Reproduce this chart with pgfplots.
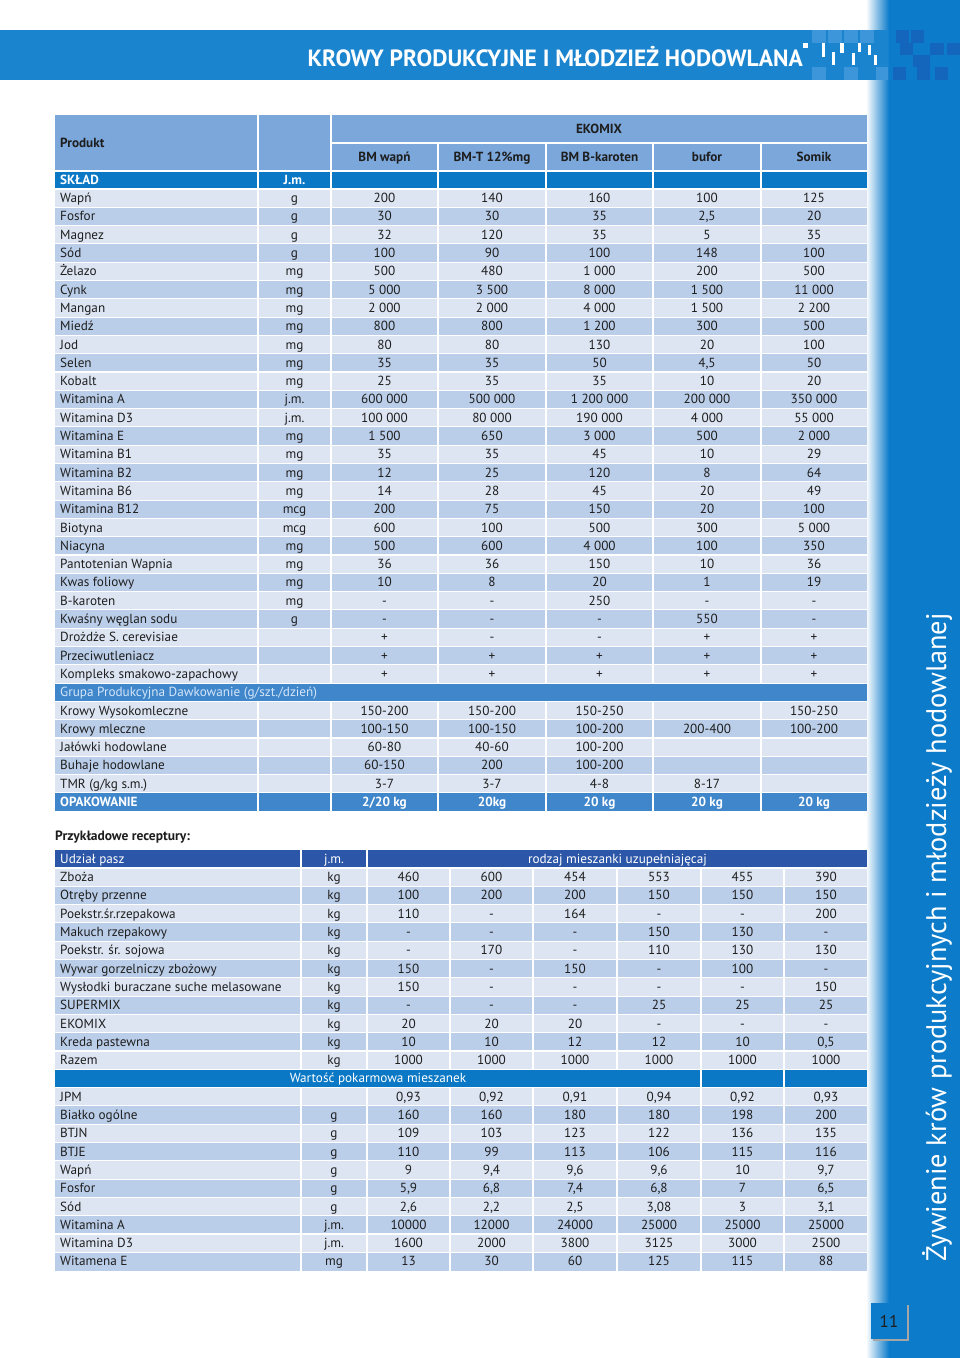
\documentclass[border=0pt]{standalone}
\usepackage{pgfplots}
\pgfplotsset{compat=1.18}
\usepackage{pgfplotstable}
\usepackage{fontspec}
\setmainfont{PT Sans}
\definecolor{banner}{HTML}{1A84CF}
\definecolor{stripe}{HTML}{0B7BCA}
\definecolor{hdr}{HTML}{7BA7DB}
\definecolor{skl}{HTML}{0A78C5}
\definecolor{mid}{HTML}{3F86CB}
\definecolor{navy}{HTML}{2C56A7}
\definecolor{rowA}{HTML}{DDE5F3}
\definecolor{rowB}{HTML}{BBCEE9}
\definecolor{txt}{HTML}{1E1E1E}
\definecolor{pale}{HTML}{D4E6F8}
\definecolor{sqlight}{HTML}{3D95DA}
\definecolor{sqdark}{HTML}{1466BC}
\newcommand\tfont{\fontsize{13.2}{15}\selectfont}

% sklad: EKOMIX composition
\pgfplotstableread[col sep=semicolon]{
label;unit;a;b;c;d;e
Wapń;g;200;140;160;100;125
Fosfor;g;30;30;35;2,5;20
Magnez;g;32;120;35;5;35
Sód;g;100;90;100;148;100
Żelazo;mg;500;480;1 000;200;500
Cynk;mg;5 000;3 500;8 000;1 500;11 000
Mangan;mg;2 000;2 000;4 000;1 500;2 200
Miedź;mg;800;800;1 200;300;500
Jod;mg;80;80;130;20;100
Selen;mg;35;35;50;4,5;50
Kobalt;mg;25;35;35;10;20
Witamina A;j.m.;600 000;500 000;1 200 000;200 000;350 000
Witamina D3;j.m.;100 000;80 000;190 000;4 000;55 000
Witamina E;mg;1 500;650;3 000;500;2 000
Witamina B1;mg;35;35;45;10;29
Witamina B2;mg;12;25;120;8;64
Witamina B6;mg;14;28;45;20;49
Witamina B12;mcg;200;75;150;20;100
Biotyna;mcg;600;100;500;300;5 000
Niacyna;mg;500;600;4 000;100;350
Pantotenian Wapnia;mg;36;36;150;10;36
Kwas foliowy;mg;10;8;20;1;19
B-karoten;mg;-;-;250;-;-
Kwaśny węglan sodu;g;-;-;-;550;-
Drożdże S. cerevisiae;;+;-;-;+;+
Przeciwutleniacz;;+;+;+;+;+
Kompleks smakowo-zapachowy;;+;+;+;+;+
}\sklad

% dawkowanie
\pgfplotstableread[col sep=semicolon]{
label;a;b;c;d;e
Krowy Wysokomleczne;150-200;150-200;150-250;;150-250
Krowy mleczne;100-150;100-150;100-200;200-400;100-200
Jałówki hodowlane;60-80;40-60;100-200;;
Buhaje hodowlane;60-150;200;100-200;;
TMR (g/kg s.m.);3-7;3-7;4-8;8-17;
}\dawki

\pgfplotstableread[col sep=semicolon]{
label;a;b;c;d;e
OPAKOWANIE;2/20 kg;20kg;20 kg;20 kg;20 kg
}\opak

% receptury
\pgfplotstableread[col sep=semicolon]{
label;unit;a;b;c;d;e;f
Zboża;kg;460;600;454;553;455;390
Otręby przenne;kg;100;200;200;150;150;150
Poekstr.śr.rzepakowa;kg;110;-;164;-;-;200
Makuch rzepakowy;kg;-;-;-;150;130;-
Poekstr. śr. sojowa;kg;-;170;-;110;130;130
Wywar gorzelniczy zbożowy;kg;150;-;150;-;100;-
Wysłodki buraczane suche melasowane;kg;150;-;-;-;-;150
SUPERMIX;kg;-;-;-;25;25;25
EKOMIX;kg;20;20;20;-;-;-
Kreda pastewna;kg;10;10;12;12;10;0,5
Razem;kg;1000;1000;1000;1000;1000;1000
}\recept

\pgfplotstableread[col sep=semicolon]{
label;unit;a;b;c;d;e;f
JPM;;0,93;0,92;0,91;0,94;0,92;0,93
Białko ogólne;g;160;160;180;180;198;200
BTJN;g;109;103;123;122;136;135
BTJE;g;110;99;113;106;115;116
Wapń;g;9;9,4;9,6;9,6;10;9,7
Fosfor;g;5,9;6,8;7,4;6,8;7;6,5
Sód;g;2,6;2,2;2,5;3,08;3;3,1
Witamina A;j.m.;10000;12000;24000;25000;25000;25000
Witamina D3;j.m.;1600;2000;3800;3125;3000;2500
Witamena E;mg;13;30;60;125;115;88
}\wartosc

\pgfplotsset{
  cellt/.style={only marks,mark=none,point meta=explicit symbolic,nodes near coords,
    nodes near coords style={anchor=base,inner sep=0pt,font=\tfont,text=txt}},
  cellw/.style={cellt,nodes near coords style={anchor=base west}},
  cellb/.style={cellt,nodes near coords style={text=white,font=\bfseries\tfont}},
}

\begin{document}
\begin{tikzpicture}
\begin{axis}[width=960pt,height=1358pt,scale only axis,
  xmin=0,xmax=960,ymin=0,ymax=1358,y dir=reverse,hide axis,clip=false]

\fill[white] (0,0) rectangle (960,1358);
% side stripe and banner
\fill[stripe] (888,0) rectangle (960,1358);
\shade[left color=white,right color=stripe] (866,0) rectangle (889,1358);
\fill[banner] (0,30) rectangle (888,80);
\fill[sqlight] (812,30) rectangle (826,43);
\fill[sqlight] (828,30) rectangle (842,43);
\fill[sqlight] (844,30) rectangle (858,43);
\fill[sqlight] (860,30) rectangle (874,43);
\fill[sqlight] (812,67) rectangle (826,80);
\fill[sqlight] (844,67) rectangle (858,80);
\fill[sqlight] (876,67) rectangle (888,80);
\fill[sqdark] (896,30) rectangle (909,43);
\fill[sqdark] (911,30) rectangle (924,43);
\fill[sqdark] (900,43) rectangle (913,55);
\fill[sqdark] (930,43) rectangle (944,55);
\fill[sqdark] (947,43) rectangle (960,55);
\fill[sqdark] (913,55) rectangle (930,67);
\fill[sqdark] (893,67) rectangle (906,80);
\fill[sqdark] (917,67) rectangle (930,80);
\fill[sqdark] (935,67) rectangle (948,80);
\fill[white] (803,43) rectangle (808,48);
\fill[white] (822,43) rectangle (825,57);
\fill[white] (832,52) rectangle (835,65);
\fill[white] (840,43) rectangle (844,53);
\fill[white] (852,53) rectangle (855,65);
\fill[white] (858,43) rectangle (861,52);
\fill[white] (868,45) rectangle (871,55);
\fill[white] (874,55) rectangle (877,65);
\node[anchor=base east,inner sep=0pt,text=white,font=\bfseries\fontsize{23.5}{26}\selectfont]
  at (803,66.5) {KROWY PRODUKCYJNE I MŁODZIEŻ HODOWLANA};
\node[rotate=90,anchor=base,inner sep=0pt,text=white,font=\fontsize{28.3}{32}\selectfont]
  at (946,937.5) {Żywienie krów produkcyjnych i młodzieży hodowlanej};
\fill[black!35] (873,1305) rectangle (909,1341);
\fill[stripe] (871,1303) rectangle (907,1339);
\node[text=txt,font=\fontsize{17}{20}\selectfont] at (889,1321) {11};

% ---- table 1 ----
\fill[hdr] (55,115) rectangle (867,171);
\fill[skl] (55,171) rectangle (867,189);
\pgfplotsinvokeforeach{0,2,...,26}{\fill[rowA] (55,{189+18.3*#1}) rectangle (867,{189+18.3*(#1+1)});}
\pgfplotsinvokeforeach{1,3,...,25}{\fill[rowB] (55,{189+18.3*#1}) rectangle (867,{189+18.3*(#1+1)});}
\fill[mid] (55,683.1) rectangle (867,701.4);
\pgfplotsinvokeforeach{0,2,4}{\fill[rowA] (55,{701.4+18.3*#1}) rectangle (867,{701.4+18.3*(#1+1)});}
\pgfplotsinvokeforeach{1,3}{\fill[rowB] (55,{701.4+18.3*#1}) rectangle (867,{701.4+18.3*(#1+1)});}
\fill[mid] (55,793.2) rectangle (867,811.5);
\pgfplotsinvokeforeach{0,...,34}{\draw[white,line width=1.1pt] (55,{189+18.3*#1}) -- (867,{189+18.3*#1});}
\draw[white,line width=1.1pt] (55,171) -- (867,171);
\draw[white,line width=1.1pt] (331,143) -- (867,143);
\draw[white,line width=1.6pt] (258,115) -- (258,683.1) (331,115) -- (331,683.1);
\draw[white,line width=1.6pt] (258,701.4) -- (258,811.5) (331,701.4) -- (331,811.5);
\pgfplotsinvokeforeach{438,546,653,761}{
  \draw[white,line width=1.6pt] (#1,143) -- (#1,683.1);
  \draw[white,line width=1.6pt] (#1,701.4) -- (#1,811.5);}

\begin{scope}[every node/.style={inner sep=0pt,text=txt,font=\bfseries\tfont}]
\node[anchor=base west] at (60,147.5) {Produkt};
\node[anchor=base] at (599,133.5) {EKOMIX};
\node[anchor=base] at (384.5,161.5) {BM wapń};
\node[anchor=base] at (492,161.5) {BM-T 12\%mg};
\node[anchor=base] at (599.5,161.5) {BM B-karoten};
\node[anchor=base] at (707,161.5) {bufor};
\node[anchor=base] at (814,161.5) {Somik};
\node[anchor=base west,text=white] at (60,184.5) {SKŁAD};
\node[anchor=base,text=white] at (294.5,184.5) {J.m.};
\node[anchor=base west,font=\tfont,text=pale] at (60,696.8) {Grupa Produkcyjna Dawkowanie (g/szt./dzień)};
\node[anchor=base west,font=\bfseries\fontsize{13.5}{15}\selectfont] at (55,840.5) {Przykładowe receptury:};
\end{scope}

\addplot[cellw] table[x expr=60,y expr=202.65+18.3*\coordindex,meta=label]{\sklad};
\addplot[cellt] table[x expr=294.5,y expr=202.65+18.3*\coordindex,meta=unit]{\sklad};
\addplot[cellt] table[x expr=384.5,y expr=202.65+18.3*\coordindex,meta=a]{\sklad};
\addplot[cellt] table[x expr=492,y expr=202.65+18.3*\coordindex,meta=b]{\sklad};
\addplot[cellt] table[x expr=599.5,y expr=202.65+18.3*\coordindex,meta=c]{\sklad};
\addplot[cellt] table[x expr=707,y expr=202.65+18.3*\coordindex,meta=d]{\sklad};
\addplot[cellt] table[x expr=814,y expr=202.65+18.3*\coordindex,meta=e]{\sklad};

\addplot[cellw] table[x expr=60,y expr=715.05+18.3*\coordindex,meta=label]{\dawki};
\addplot[cellt] table[x expr=384.5,y expr=715.05+18.3*\coordindex,meta=a]{\dawki};
\addplot[cellt] table[x expr=492,y expr=715.05+18.3*\coordindex,meta=b]{\dawki};
\addplot[cellt] table[x expr=599.5,y expr=715.05+18.3*\coordindex,meta=c]{\dawki};
\addplot[cellt] table[x expr=707,y expr=715.05+18.3*\coordindex,meta=d]{\dawki};
\addplot[cellt] table[x expr=814,y expr=715.05+18.3*\coordindex,meta=e]{\dawki};

\addplot[cellb,nodes near coords style={anchor=base west}] table[x expr=60,y expr=806.85,meta=label]{\opak};
\addplot[cellb] table[x expr=384.5,y expr=806.85,meta=a]{\opak};
\addplot[cellb] table[x expr=492,y expr=806.85,meta=b]{\opak};
\addplot[cellb] table[x expr=599.5,y expr=806.85,meta=c]{\opak};
\addplot[cellb] table[x expr=707,y expr=806.85,meta=d]{\opak};
\addplot[cellb] table[x expr=814,y expr=806.85,meta=e]{\opak};

% ---- table 2 ----
\fill[navy] (55,850) rectangle (867,868);
\pgfplotsinvokeforeach{0,2,...,10}{\fill[rowA] (55,{868+18.3*#1}) rectangle (867,{868+18.3*(#1+1)});}
\pgfplotsinvokeforeach{1,3,...,9}{\fill[rowB] (55,{868+18.3*#1}) rectangle (867,{868+18.3*(#1+1)});}
\fill[skl] (55,1069.3) rectangle (867,1087.6);
\pgfplotsinvokeforeach{12,14,...,20}{\fill[rowA] (55,{868+18.3*#1}) rectangle (867,{868+18.3*(#1+1)});}
\pgfplotsinvokeforeach{13,15,...,21}{\fill[rowB] (55,{868+18.3*#1}) rectangle (867,{868+18.3*(#1+1)});}
\pgfplotsinvokeforeach{0,...,21}{\draw[white,line width=1.1pt] (55,{868+18.3*#1}) -- (867,{868+18.3*#1});}
\draw[white,line width=1.6pt] (301,850) -- (301,1069.3) (367,850) -- (367,1069.3);
\draw[white,line width=1.6pt] (301,1087.6) -- (301,1271) (367,1087.6) -- (367,1271);
\pgfplotsinvokeforeach{450,533,617}{
  \draw[white,line width=1.6pt] (#1,868) -- (#1,1069.3);
  \draw[white,line width=1.6pt] (#1,1087.6) -- (#1,1271);}
\pgfplotsinvokeforeach{701,784}{\draw[white,line width=1.6pt] (#1,868) -- (#1,1271);}

\begin{scope}[every node/.style={inner sep=0pt,text=white,font=\tfont}]
\node[anchor=base west] at (60,863.5) {Udział pasz};
\node[anchor=base] at (334,863.5) {j.m.};
\node[anchor=base] at (617.5,863.5) {rodzaj mieszanki uzupełniajęcaj};
\node[anchor=base] at (378,1082.9) {Wartość pokarmowa mieszanek};
\end{scope}

\addplot[cellw] table[x expr=60,y expr=881.65+18.3*\coordindex,meta=label]{\recept};
\addplot[cellt] table[x expr=334,y expr=881.65+18.3*\coordindex,meta=unit]{\recept};
\addplot[cellt] table[x expr=408.5,y expr=881.65+18.3*\coordindex,meta=a]{\recept};
\addplot[cellt] table[x expr=491.5,y expr=881.65+18.3*\coordindex,meta=b]{\recept};
\addplot[cellt] table[x expr=575,y expr=881.65+18.3*\coordindex,meta=c]{\recept};
\addplot[cellt] table[x expr=659,y expr=881.65+18.3*\coordindex,meta=d]{\recept};
\addplot[cellt] table[x expr=742.5,y expr=881.65+18.3*\coordindex,meta=e]{\recept};
\addplot[cellt] table[x expr=826,y expr=881.65+18.3*\coordindex,meta=f]{\recept};

\addplot[cellw] table[x expr=60,y expr=1101.25+18.3*\coordindex,meta=label]{\wartosc};
\addplot[cellt] table[x expr=334,y expr=1101.25+18.3*\coordindex,meta=unit]{\wartosc};
\addplot[cellt] table[x expr=408.5,y expr=1101.25+18.3*\coordindex,meta=a]{\wartosc};
\addplot[cellt] table[x expr=491.5,y expr=1101.25+18.3*\coordindex,meta=b]{\wartosc};
\addplot[cellt] table[x expr=575,y expr=1101.25+18.3*\coordindex,meta=c]{\wartosc};
\addplot[cellt] table[x expr=659,y expr=1101.25+18.3*\coordindex,meta=d]{\wartosc};
\addplot[cellt] table[x expr=742.5,y expr=1101.25+18.3*\coordindex,meta=e]{\wartosc};
\addplot[cellt] table[x expr=826,y expr=1101.25+18.3*\coordindex,meta=f]{\wartosc};
\end{axis}
\end{tikzpicture}
\end{document}
